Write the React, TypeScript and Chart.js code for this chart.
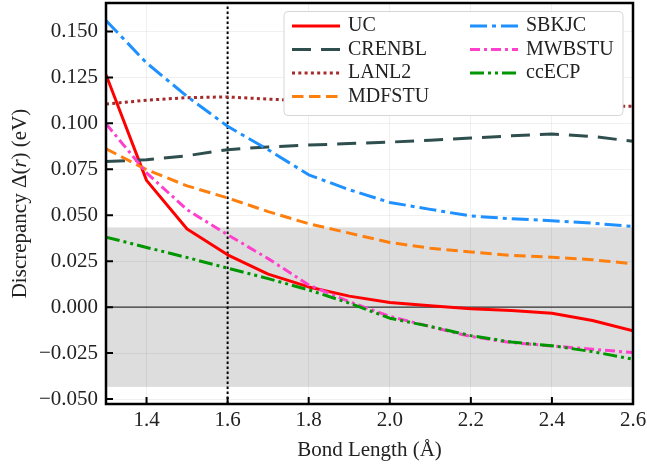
import React, { useEffect, useRef } from "react";
import { Chart, registerables } from "chart.js";

Chart.register(...registerables);

// ---------- data ----------
const BOND_LENGTH = [1.3, 1.4, 1.5, 1.6, 1.7, 1.8, 1.9, 2.0, 2.1, 2.2, 2.3, 2.4, 2.5, 2.6];

const UC = [0.1265, 0.069, 0.0425, 0.0285, 0.018, 0.011, 0.006, 0.0025, 0.0007, -0.0009, -0.0018, -0.0033, -0.0073, -0.0129];
const CRENBL = [0.0793, 0.0802, 0.0824, 0.0857, 0.0872, 0.0882, 0.089, 0.0898, 0.0908, 0.092, 0.0932, 0.0942, 0.0929, 0.0902];
const LANL2 = [0.1105, 0.1126, 0.114, 0.1144, 0.1132, 0.1122, 0.1115, 0.111, 0.1106, 0.1103, 0.11, 0.1098, 0.1096, 0.1093];
const MDFSTU = [0.0862, 0.0748, 0.066, 0.0594, 0.052, 0.0454, 0.0403, 0.0352, 0.0321, 0.03, 0.0281, 0.0272, 0.0258, 0.0236];
const SBKJC = [0.156, 0.1329, 0.1147, 0.0984, 0.0857, 0.072, 0.0639, 0.057, 0.0532, 0.0496, 0.0481, 0.047, 0.0457, 0.0439];
const MWBSTU = [0.0998, 0.0731, 0.053, 0.0394, 0.0264, 0.0121, 0.003, -0.005, -0.0106, -0.016, -0.0193, -0.0211, -0.0229, -0.0247];
const CCECP = [0.0381, 0.0325, 0.027, 0.0212, 0.0155, 0.0094, 0.0022, -0.006, -0.0105, -0.0155, -0.019, -0.021, -0.0242, -0.0283];

const X_TICKS = [1.4, 1.6, 1.8, 2.0, 2.2, 2.4, 2.6];
const Y_TICKS = [-0.05, -0.025, 0, 0.025, 0.05, 0.075, 0.1, 0.125, 0.15];
const X_RANGE = [1.3, 2.6];
const Y_RANGE = [-0.0527, 0.1655];
const BAND_HALF_WIDTH = 0.0434; // chemical accuracy (1 kcal/mol)
const MARKER_BOND = 1.6;

const X_TITLE = "Bond Length (Å)";
const Y_TITLE_PARTS = ["Discrepancy Δ(", "r", ") (eV)"];

// ---------- styles ----------
const FONT = '"Liberation Serif", "Times New Roman", serif';
const TEXT = "#222222";

const SERIES = [
  { label: "UC", data: UC, color: "#ff0000", dash: [] as number[] },
  { label: "CRENBL", data: CRENBL, color: "#2f4f4f", dash: [19, 10] },
  { label: "LANL2", data: LANL2, color: "#a52a2a", dash: [3, 3.3] },
  { label: "MDFSTU", data: MDFSTU, color: "#ff7f0e", dash: [11.5, 5.5] },
  { label: "SBKJC", data: SBKJC, color: "#1e90ff", dash: [17, 5, 4, 5] },
  { label: "MWBSTU", data: MWBSTU, color: "#ff40cc", dash: [10, 4, 3, 4] },
  { label: "ccECP", data: CCECP, color: "#009600", dash: [14, 4, 3, 4, 3, 4] },
];

const decorPlugin = {
  id: "decor",
  beforeDatasetsDraw(chart: any) {
    const { ctx, chartArea: a, scales } = chart;
    const x = scales.x, y = scales.y;
    ctx.save();
    // grey band
    const yt = y.getPixelForValue(BAND_HALF_WIDTH);
    const yb = y.getPixelForValue(-BAND_HALF_WIDTH);
    ctx.fillStyle = "rgba(0,0,0,0.135)";
    ctx.fillRect(a.left, yt, a.right - a.left, yb - yt);
    // zero line
    const y0 = y.getPixelForValue(0);
    ctx.strokeStyle = "#333333";
    ctx.lineWidth = 1.2;
    ctx.beginPath();
    ctx.moveTo(a.left, y0);
    ctx.lineTo(a.right, y0);
    ctx.stroke();
    // vertical dotted marker
    const xv = x.getPixelForValue(MARKER_BOND);
    ctx.strokeStyle = "#000000";
    ctx.lineWidth = 2;
    ctx.setLineDash([2.5, 2.5]);
    ctx.beginPath();
    ctx.moveTo(xv, a.bottom);
    ctx.lineTo(xv, a.top);
    ctx.stroke();
    ctx.restore();
  },
  afterDatasetsDraw(chart: any) {
    const { ctx, chartArea: a, scales } = chart;
    const x = scales.x, y = scales.y;
    ctx.save();
    // inward ticks
    ctx.strokeStyle = "#000000";
    ctx.lineWidth = 2;
    ctx.beginPath();
    X_TICKS.forEach((v) => {
      const px = x.getPixelForValue(v);
      ctx.moveTo(px, a.bottom);
      ctx.lineTo(px, a.bottom - 7);
    });
    Y_TICKS.forEach((v) => {
      const py = y.getPixelForValue(v);
      ctx.moveTo(a.left, py);
      ctx.lineTo(a.left + 7, py);
    });
    ctx.stroke();
    // spines
    ctx.lineWidth = 2.5;
    ctx.strokeRect(a.left, a.top, a.right - a.left, a.bottom - a.top);
    ctx.restore();
  },
  afterDraw(chart: any) {
    const { ctx, chartArea: a } = chart;
    ctx.save();
    ctx.fillStyle = TEXT;
    // x title
    ctx.font = `21px ${FONT}`;
    ctx.textAlign = "center";
    ctx.textBaseline = "middle";
    ctx.fillText(X_TITLE, (a.left + a.right) / 2, 450);
    // y title (with italic r)
    const fonts = [`21px ${FONT}`, `italic 21px ${FONT}`, `21px ${FONT}`];
    let total = 0;
    const widths = Y_TITLE_PARTS.map((p, i) => {
      ctx.font = fonts[i];
      const w = ctx.measureText(p).width;
      total += w;
      return w;
    });
    ctx.translate(20, (a.top + a.bottom) / 2);
    ctx.rotate(-Math.PI / 2);
    ctx.textAlign = "left";
    let cx = -total / 2;
    Y_TITLE_PARTS.forEach((p, i) => {
      ctx.font = fonts[i];
      ctx.fillText(p, cx, 0);
      cx += widths[i];
    });
    ctx.restore();

    // legend
    ctx.save();
    const lx = 284, ly = 11.5, lw = 339, lh = 104, r = 4;
    ctx.beginPath();
    ctx.moveTo(lx + r, ly);
    ctx.arcTo(lx + lw, ly, lx + lw, ly + lh, r);
    ctx.arcTo(lx + lw, ly + lh, lx, ly + lh, r);
    ctx.arcTo(lx, ly + lh, lx, ly, r);
    ctx.arcTo(lx, ly, lx + lw, ly, r);
    ctx.closePath();
    ctx.fillStyle = "#ffffff";
    ctx.fill();
    ctx.strokeStyle = "#d6d6d6";
    ctx.lineWidth = 1;
    ctx.stroke();
    ctx.font = `20px ${FONT}`;
    ctx.textAlign = "left";
    ctx.textBaseline = "middle";
    SERIES.forEach((s, i) => {
      const col = i < 4 ? 0 : 1;
      const row = i < 4 ? i : i - 4;
      const yy = 26 + row * 23.5;
      const x0 = col === 0 ? 292 : 470;
      ctx.strokeStyle = s.color;
      ctx.lineWidth = 3;
      ctx.lineCap = "butt";
      ctx.setLineDash(s.dash);
      ctx.beginPath();
      ctx.moveTo(x0, yy);
      ctx.lineTo(x0 + 48, yy);
      ctx.stroke();
      ctx.setLineDash([]);
      ctx.fillStyle = TEXT;
      ctx.fillText(s.label, x0 + 56, yy);
    });
    ctx.restore();
  },
};

export default function App() {
  const ref = useRef<HTMLCanvasElement>(null);
  useEffect(() => {
    if (!ref.current) return;
    const chart = new Chart(ref.current, {
      type: "line",
      data: {
        labels: BOND_LENGTH,
        datasets: SERIES.map((s, i) => ({
          label: s.label,
          data: BOND_LENGTH.map((bx, k) => ({ x: bx, y: s.data[k] })),
          borderColor: s.color,
          backgroundColor: s.color,
          borderWidth: 3,
          borderDash: s.dash,
          borderCapStyle: "butt",
          borderJoinStyle: "round",
          pointRadius: 0,
          tension: 0,
          fill: false,
          order: SERIES.length - i,
        })),
      },
      options: {
        animation: false,
        responsive: false,
        maintainAspectRatio: false,
        devicePixelRatio: 1,
        layout: { padding: { top: 3, right: 14, left: 0, bottom: 0 } },
        plugins: { legend: { display: false }, tooltip: { enabled: false } },
        scales: {
          x: {
            type: "linear",
            min: X_RANGE[0],
            max: X_RANGE[1],
            afterBuildTicks: (s: any) => { s.ticks = X_TICKS.map((v) => ({ value: v })); },
            afterFit: (s: any) => { s.height = 64; s.paddingLeft = 0; s.paddingRight = 0; },
            grid: { color: "rgba(0,0,0,0.06)", drawTicks: false },
            border: { display: false },
            ticks: {
              padding: 4,
              color: TEXT,
              font: { family: FONT, size: 21 },
              maxRotation: 0,
              autoSkip: false,
              callback: (v: any) => Number(v).toFixed(1),
            },
          },
          y: {
            type: "linear",
            min: Y_RANGE[0],
            max: Y_RANGE[1],
            afterBuildTicks: (s: any) => { s.ticks = Y_TICKS.map((v) => ({ value: v })); },
            afterFit: (s: any) => { s.width = 106; s.paddingTop = 0; s.paddingBottom = 0; },
            grid: { color: "rgba(0,0,0,0.06)", drawTicks: false },
            border: { display: false },
            ticks: {
              padding: 8,
              color: TEXT,
              font: { family: FONT, size: 21 },
              autoSkip: false,
              callback: (v: any) => Number(v).toFixed(3).replace("-", "\u2212"),
            },
          },
        },
      },
      plugins: [decorPlugin],
    } as any);
    return () => chart.destroy();
  }, []);
  return (
    <div style={{ position: "fixed", left: 0, top: 0, width: 647, height: 468, background: "#fff" }}>
      <canvas ref={ref} width={647} height={468} style={{ display: "block", width: 647, height: 468 }} />
    </div>
  );
}
